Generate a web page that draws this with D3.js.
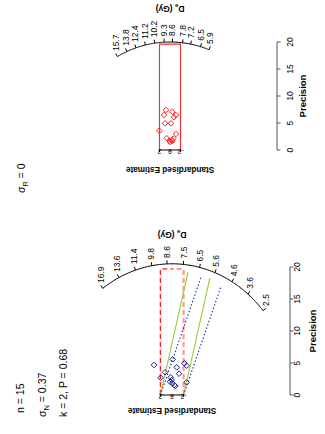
<!DOCTYPE html>
<html>
<head>
<meta charset="utf-8">
<script src="https://cdn.jsdelivr.net/npm/d3@7"></script>
<style>
  body { margin: 0; background: #fff; }
  svg { display: block; }
  text { font-family: "Liberation Sans", Arial, Helvetica, sans-serif; fill: #000; }
</style>
</head>
<body>
<svg id="chart" width="325" height="434"></svg>
<script>
// Shared axis ticks
const precisionTicks = [0, 5, 10, 15, 20];
const estimateTicks = [2, 0, -2];

// Radial plot A: two-component finite mixture model
const deTicksA = [16.9, 13.6, 11.4, 9.8, 8.6, 7.5, 6.5, 5.6, 4.6, 3.6, 2.5];
const precisionA = [4.69, 5.58, 4.33, 3.55, 3.33, 2.70, 2.77, 2.34, 2.08, 1.83, 1.56, 1.41, 4.95, 4.58, 1.98];
const estimateA  = [3.10, -0.12, -0.81, 1.21, -1.21, 1.95, 0.22, 0.05, 0.34, -0.05, -0.40, -0.57, -2.12, -2.53, -2.53];
const centralDeA = 8.25;
const componentDeA = [6.44, 5.64];
const statsA = [["n = 15", null, ""], ["σ", "N", " = 0.37"], ["k = 2, P = 0.68", null, ""]];

// Radial plot B: central age model
const deTicksB = [15.7, 13.8, 12.4, 11.2, 10.2, 9.3, 8.6, 7.8, 7.2, 6.5, 5.9];
const precisionB = [7.41, 6.48, 7.09, 6.48, 6.06, 4.94, 4.94, 3.57, 2.17, 1.85, 1.48, 1.67, 2.09, 2.96, 1.72];
const estimateB  = [0.76, 1.14, -0.44, -1.14, -0.76, 0.95, -0.19, 2.04, 0.63, -0.32, 0.00, -0.44, -0.63, -1.14, 0.13];
const centralDeB = 8.8;
const statsB = [["σ", "R", " = 0"]];

// The figure is laid out on a 434 x 325 landscape page and turned a quarter turn
const svg = d3.select("#chart");
const page = svg.append("g").attr("transform", "translate(0,434) rotate(-90)");

function diamond(r) {
  return `M0,${-r}L${r},0L0,${r}L${-r},0Z`;
}

function radialPlot(g, cfg) {
  const x = d3.scaleLinear().domain([0, 20]).range([cfg.x0, cfg.x0 + 20 * cfg.kx]);
  const y = d3.scaleLinear().domain([-2, 2]).range([cfg.y0 + 2 * cfg.ky, cfg.y0 - 2 * cfg.ky]);
  const z0 = Math.log(cfg.central);
  const slope = z => Math.log(z) - z0;
  const arcPoint = (m, r) => { const px = r / Math.sqrt(1 + m * m); return [x(px), y(m * px)]; };
  const ox = x(0), oy = y(0);

  // z-axis arc
  const mHi = slope(d3.max(cfg.deTicks)), mLo = slope(d3.min(cfg.deTicks));
  const arcPts = d3.range(0, 101).map(i => arcPoint(mHi + (mLo - mHi) * i / 100, cfg.rho));
  g.append("path").attr("d", d3.line()(arcPts)).attr("fill", "none")
    .attr("stroke", "#000").attr("stroke-width", 1);

  // arc ticks and labels
  cfg.deTicks.forEach(z => {
    const p = arcPoint(slope(z), cfg.rho);
    const dx = p[0] - ox, dy = p[1] - oy, len = Math.hypot(dx, dy);
    const ux = dx / len, uy = dy / len;
    const e = [p[0] + ux * 3.5, p[1] + uy * 3.5];
    g.append("line").attr("x1", p[0]).attr("y1", p[1]).attr("x2", e[0]).attr("y2", e[1])
      .attr("stroke", "#000").attr("stroke-width", 1);
    g.append("text").attr("x", e[0] + 2.5).attr("y", e[1] + 3)
      .attr("font-size", 8.5).text(z.toFixed(1));
  });

  // 2-sigma band around the central value
  const xTop = cfg.bandTop;
  if (cfg.bandDashed) {
    g.append("path").attr("d", d3.line()([[ox, y(2)], [x(xTop), y(2)], [x(xTop), y(0)]]))
      .attr("fill", "none").attr("stroke", "#ff1a1a").attr("stroke-width", 1.3)
      .attr("stroke-dasharray", "5,3");
    g.append("path").attr("d", d3.line()([[ox, y(-2)], [x(xTop), y(-2)], [x(xTop), y(0)]]))
      .attr("fill", "none").attr("stroke", "#ff9a9a").attr("stroke-width", 2.2)
      .attr("stroke-dasharray", "5,3");
  } else {
    g.append("path").attr("d", d3.line()([[ox, y(-2)], [x(xTop), y(-2)], [x(xTop), y(2)], [ox, y(2)]]))
      .attr("fill", "none").attr("stroke", "#ff2a2a").attr("stroke-width", 1.1);
  }

  // mixture components: +/-2 lines around each component slope
  (cfg.components || []).forEach(c => {
    const m = slope(c.de);
    [2, -2].forEach(b => {
      // end where the line meets a circle slightly inside the arc
      const A = 1 + m * m, B = 2 * m * b, C = b * b - c.reach * c.reach;
      const xe = (-B + Math.sqrt(B * B - 4 * A * C)) / (2 * A);
      g.append("line").attr("x1", x(0)).attr("y1", y(b)).attr("x2", x(xe)).attr("y2", y(m * xe + b))
        .attr("stroke", c.color).attr("stroke-width", c.width)
        .attr("stroke-dasharray", c.dash);
    });
  });

  // data points
  cfg.precision.forEach((p, i) => {
    g.append("path").attr("d", diamond(2.8))
      .attr("transform", `translate(${x(p)},${y(cfg.estimate[i])})`)
      .attr("fill", "none").attr("stroke", cfg.pointColor).attr("stroke-width", 1);
  });

  // standardised estimate axis
  g.append("line").attr("x1", ox).attr("x2", ox).attr("y1", y(-2)).attr("y2", y(2))
    .attr("stroke", "#000").attr("stroke-width", 1);
  estimateTicks.forEach(t => {
    g.append("line").attr("x1", ox).attr("x2", ox - 2).attr("y1", y(t)).attr("y2", y(t))
      .attr("stroke", "#000");
    g.append("text").attr("transform", `translate(${ox + 1},${y(t)}) rotate(-90)`)
      .attr("text-anchor", "middle").attr("font-size", 6.5).text(t === -2 ? "-2" : t);
  });
  g.append("text").attr("transform", `translate(${cfg.estLabelX},${oy}) rotate(-90)`)
    .attr("text-anchor", "middle").attr("font-size", 8.2).attr("font-weight", "bold")
    .text("Standardised Estimate");

  // precision axis
  const ax = g.append("g").attr("transform", `translate(0,${cfg.axisY})`);
  ax.append("line").attr("x1", x(0)).attr("x2", x(20)).attr("stroke", "#555").attr("stroke-width", 1);
  precisionTicks.forEach(t => {
    ax.append("line").attr("x1", x(t)).attr("x2", x(t)).attr("y1", 0).attr("y2", 3.5).attr("stroke", "#555");
    ax.append("text").attr("x", x(t)).attr("y", cfg.tickLabelDy).attr("text-anchor", "middle")
      .attr("font-size", 8.5).text(t);
  });
  ax.append("text").attr("x", (x(0) + x(20)) / 2).attr("y", cfg.titleDy).attr("text-anchor", "middle")
    .attr("font-size", 9.5).attr("font-weight", "bold").text("Precision");

  // z-axis title
  const de = g.append("text").attr("transform", `translate(${cfg.deLabelX},${oy}) rotate(-90)`)
    .attr("text-anchor", "middle").attr("font-size", 8.5).attr("font-weight", "bold");
  de.append("tspan").text("D");
  de.append("tspan").attr("font-size", 6).attr("dy", 2).text("e");
  de.append("tspan").attr("dy", -2).text(" (Gy)");

  // statistics
  cfg.stats.forEach((s, i) => {
    const t = g.append("text").attr("x", cfg.statsX[i]).attr("y", cfg.statsY[i]).attr("font-size", 10.5);
    t.append("tspan").text(s[0]);
    if (s[1]) {
      t.append("tspan").attr("font-size", 7.5).attr("dy", 2.5).text(s[1]);
      t.append("tspan").attr("dy", -2.5).text(s[2]);
    }
  });
}

radialPlot(page.append("g"), {
  x0: 39, kx: 6.4, y0: 172, ky: 5.8, rho: 20.5,
  central: centralDeA, deTicks: deTicksA,
  precision: precisionA, estimate: estimateA, pointColor: "#1f1f8f",
  bandTop: 19.7, bandDashed: true,
  components: [
    { de: componentDeA[0], color: "#8fcf2a", width: 1.1, dash: null, reach: 19.4 },
    { de: componentDeA[1], color: "#1f2f9f", width: 1.1, dash: "1.5,2", reach: 19.0 }
  ],
  axisY: 290, tickLabelDy: 10, titleDy: 26,
  estLabelX: 26, deLabelX: 202,
  stats: statsA, statsX: [21, 17, 17], statsY: [24, 46, 67]
});

radialPlot(page.append("g"), {
  x0: 284, kx: 5.4, y0: 170, ky: 5.25, rho: 20,
  central: centralDeB, deTicks: deTicksB,
  precision: precisionB, estimate: estimateB, pointColor: "#ff2020",
  bandTop: 19.6, bandDashed: false,
  components: [],
  axisY: 277, tickLabelDy: 16, titleDy: 29,
  estLabelX: 267, deLabelX: 428,
  stats: statsB, statsX: [241], statsY: [25]
});
</script>
</body>
</html>
